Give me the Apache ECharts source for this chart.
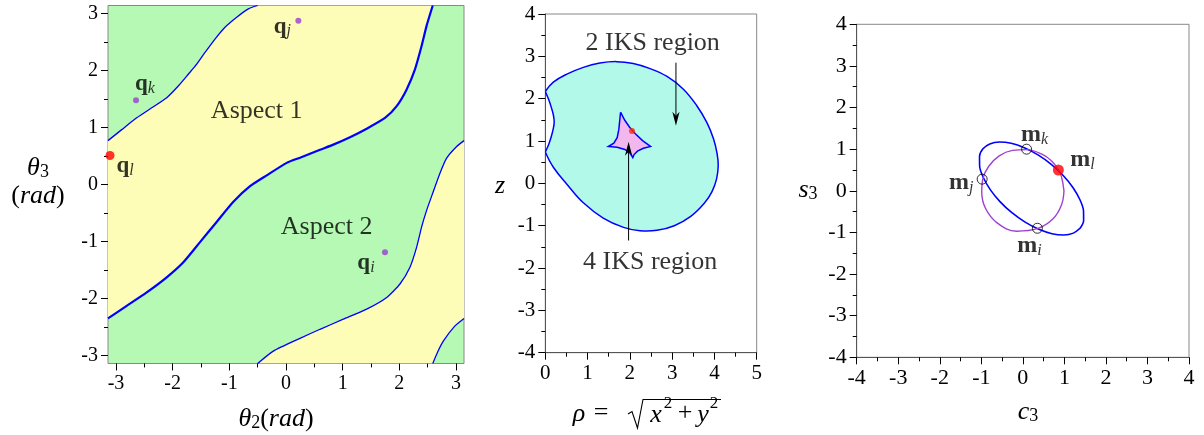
<!DOCTYPE html>
<html><head><meta charset="utf-8">
<script src="https://cdn.jsdelivr.net/npm/echarts@6/dist/echarts.min.js"></script>
<style>html,body{margin:0;padding:0;background:#fff}#c{width:1204px;height:435px}</style>
</head><body><div id="c"></div>
<script>
const PI = 3.14159;
// ---------- Left panel: joint space (theta2, theta3) ----------
const curveA = [[-3.1416,0.77],[-2.899,0.963],[-2.635,1.170],[-2.370,1.346],[-2.105,1.523],[-1.901,1.728],[-1.724,1.935],[-1.576,2.111],[-1.429,2.318],[-1.253,2.553],[-1.077,2.760],[-0.870,2.936],[-0.665,3.083],[-0.50,3.1416]];
const curveB = [[-3.1416,-2.35],[-2.812,-2.13],[-2.459,-1.894],[-2.106,-1.629],[-1.812,-1.364],[-1.518,-1.011],[-1.224,-0.657],[-0.929,-0.304],[-0.635,-0.03],[-0.341,0.16],[0.012,0.38],[0.247,0.47],[0.60,0.61],[0.835,0.70],[1.129,0.83],[1.424,0.98],[1.747,1.168],[1.953,1.375],[2.129,1.669],[2.276,2.022],[2.394,2.435],[2.482,2.788],[2.59,3.1416]];
const curveC = [[-0.50,-3.1416],[-0.224,-2.925],[0.247,-2.70],[0.600,-2.541],[1.011,-2.364],[1.424,-2.187],[1.777,-1.982],[2.011,-1.746],[2.188,-1.452],[2.306,-1.099],[2.394,-0.745],[2.483,-0.450],[2.599,-0.127],[2.717,0.198],[2.835,0.463],[3.012,0.668],[3.1416,0.77]];
const curveD = [[2.59,-3.1416],[2.68,-2.93],[2.776,-2.747],[2.982,-2.482],[3.1416,-2.35]];
const qNames = ['i','j','k'];
const qPoints = [[1.747,-1.187],[0.218,2.876],[-2.647,1.48]];
const qlPoint = [-3.106,0.509];
const aspectLabels = ['Aspect 1','Aspect 2'];
const aspectPos = [[-0.517,1.286],[0.717,-0.746]];

// ---------- Middle panel: workspace (rho, z) ----------
const outerArc = [[0.0,2.17],[0.19,2.39],[0.51,2.58],[0.90,2.74],[1.29,2.84],[1.69,2.875],[2.08,2.83],[2.48,2.71],[2.87,2.53],[3.26,2.23],[3.58,1.84],[3.82,1.44],[3.98,1.05],[4.06,0.72],[4.09,0.42],[4.05,0.10],[3.94,-0.20],[3.76,-0.47],[3.44,-0.78],[3.05,-1.00],[2.64,-1.11],[2.24,-1.12],[1.85,-1.04],[1.37,-0.82],[0.90,-0.46],[0.51,-0.02],[0.19,0.38],[0.0,0.74]];
const concaveArc = [[0.0,0.74],[0.08,0.92],[0.14,1.10],[0.19,1.30],[0.21,1.45],[0.19,1.62],[0.14,1.80],[0.08,1.98],[0.0,2.17]];
const innerRegion = [[1.78,1.68],[1.88,1.49],[1.99,1.33],[2.13,1.17],[2.30,1.01],[2.49,0.87],[2.32,0.83],[2.18,0.76],[2.10,0.68],[2.07,0.61],[2.00,0.72],[1.88,0.80],[1.70,0.85],[1.49,0.87],[1.62,0.95],[1.70,1.08],[1.74,1.28],[1.76,1.48]];
const midPoint = [2.05,1.235];
const regionLabels = ['2 IKS region','4 IKS region'];
const regionLabelPos = [[2.54,3.30],[2.48,-1.87]];
const arrowsMid = [[3.09,2.85,3.09,1.36],[1.97,-1.35,1.97,0.985]];

// ---------- Right panel: (c3, s3) ----------
const blueCurve = [[1.380,-0.899],[1.463,-0.717],[1.460,-0.480],[1.372,-0.209],[1.205,0.081],[0.971,0.369],[0.684,0.636],[0.365,0.863],[0.035,1.035],[-0.282,1.141],[-0.566,1.172],[-0.797,1.127],[-0.960,1.009],[-1.043,0.827],[-1.040,0.590],[-0.952,0.319],[-0.785,0.029],[-0.551,-0.259],[-0.264,-0.526],[0.055,-0.753],[0.385,-0.925],[0.702,-1.031],[0.986,-1.062],[1.217,-1.017],[1.380,-0.899]];
const purpleCurve = [[0.99,0.0],[0.93,0.34],[0.855,0.50],[0.70,0.71],[0.46,0.88],[0.09,0.99],[-0.25,0.97],[-0.57,0.84],[-0.82,0.59],[-0.96,0.30],[-0.99,-0.03],[-0.90,-0.42],[-0.62,-0.77],[-0.15,-0.97],[0.35,-0.91],[0.72,-0.68],[0.93,-0.34],[0.99,0.0]];
const mNames = ['i','j','k'];
const mPoints = [[0.35,-0.90],[-0.98,0.28],[0.09,1.0]];
const mlPoint = [0.855,0.50];

const SERIF = '"Liberation Serif","DejaVu Serif",serif';
const BLUE = '#0000ff';

function axis(gridIndex, min, max, fontSize, extra){
  return Object.assign({
    gridIndex, type:'value', min, max, interval:1,
    axisLine:{show:true, onZero:false, lineStyle:{color:'#555', width:1}},
    axisTick:{show:true, inside:false, length:7, lineStyle:{color:'#000', width:1}},
    minorTick:{show:true, splitNumber:2, length:4, lineStyle:{color:'#000', width:1}},
    splitLine:{show:false}, minorSplitLine:{show:false},
    axisLabel:{color:'#000', fontFamily:SERIF, fontSize, margin:10}
  }, extra||{});
}
function hidden(gridIndex,min,max){ return {gridIndex,type:'value',min,max,show:false}; }

function poly(pts, idx, fill, z){
  return {type:'custom', coordinateSystem:'cartesian2d', xAxisIndex:idx, yAxisIndex:idx, silent:true, clip:true, z:z||1,
    data:[pts[0]],
    renderItem:(params, api)=>({type:'polygon', shape:{points: pts.map(p=>api.coord(p))}, style:{fill}})};
}
function region(arcs, idx, fill, stroke, lw, smooth, z){
  const all = [];
  arcs.forEach(a=>a.forEach(p=>all.push(p)));
  return {type:'custom', coordinateSystem:'cartesian2d', xAxisIndex:idx, yAxisIndex:idx, silent:true, clip:true, z:z||1,
    data:[all[0]],
    renderItem:(params, api)=>({type:'group', children:[
      {type:'polygon', shape:{points: all.map(p=>api.coord(p))}, style:{fill}},
      ...arcs.map(a=>({type:'polyline', shape:{points:a.map(p=>api.coord(p)), smooth}, style:{stroke, lineWidth:lw, fill:null}}))
    ]})};
}
function curve(pts, idx, color, w, smooth){
  return {type:'line', xAxisIndex:idx, yAxisIndex:idx, data:pts, showSymbol:false, symbol:'none', smooth:smooth, silent:true, z:3,
    lineStyle:{color, width:w}};
}
const subRich = (size, subSize) => ({
  b:{fontFamily:SERIF, fontWeight:'bold', fontSize:size, lineHeight:size+2, color:'#000'},
  s:{fontFamily:SERIF, fontStyle:'italic', fontSize:subSize, lineHeight:10, verticalAlign:'bottom', color:'#000'}
});
function textSeries(names, pos, idx, size){
  return {type:'scatter', xAxisIndex:idx, yAxisIndex:idx, symbolSize:0, silent:true, z:5,
    data: names.map((n,i)=>({name:n, value:pos[i]})),
    label:{show:true, position:'inside', formatter:'{b}', color:'#000', fontFamily:SERIF, fontSize:size}};
}
const arrowSeries = {type:'custom', coordinateSystem:'cartesian2d', xAxisIndex:2, yAxisIndex:2, silent:true, z:6,
  data: arrowsMid,
  renderItem:(params, api)=>{
    const p1 = api.coord([api.value(0), api.value(1)]);
    const p2 = api.coord([api.value(2), api.value(3)]);
    const dx = p2[0]-p1[0], dy = p2[1]-p1[1], L = Math.hypot(dx,dy), ux = dx/L, uy = dy/L;
    const hl = 14, hw = 3.6, notch = 10;
    const bx = p2[0]-ux*hl, by = p2[1]-uy*hl, nx = p2[0]-ux*notch, ny = p2[1]-uy*notch;
    return {type:'group', children:[
      {type:'line', shape:{x1:p1[0], y1:p1[1], x2:nx, y2:ny}, style:{stroke:'#000', lineWidth:1}},
      {type:'polygon', shape:{points:[p2,[bx-uy*hw, by+ux*hw],[nx,ny],[bx+uy*hw, by-ux*hw]]}, style:{fill:'#000'}}
    ]};
  }};

const qOffsets = {i:[-19,11], j:[-16,6], k:[9,-16]};
const mOffsets = {i:[-8,18], j:[-21,4], k:[8,-14]};

const T = (x,y,text,size,extra)=>({type:'text', x, y, silent:true, style:Object.assign({text, fontFamily:SERIF, fontSize:size, fill:'#000', align:'center', verticalAlign:'middle'}, extra||{})});
const itRich = (size, sub)=>({it:{fontStyle:'italic', fontFamily:SERIF, fontSize:size}, n:{fontFamily:SERIF, fontSize:size}, sub:{fontFamily:SERIF, fontSize:sub, lineHeight:10, verticalAlign:'bottom'}});

const option = {
  animation:false,
  grid:[
    {left:108, top:5.5, width:356, height:358, show:true, backgroundColor:'#b5f9b5', borderColor:'#888', borderWidth:1},
    {left:116, top:13.57, width:340, height:341.86, show:false},
    {left:545.3, top:14, width:211.4, height:338.7, show:true, backgroundColor:'#fff', borderColor:'#888', borderWidth:1},
    {left:856.7, top:24.3, width:332.3, height:333, show:true, backgroundColor:'#fff', borderColor:'#888', borderWidth:1}
  ],
  xAxis:[
    hidden(0,-PI,PI),
    axis(1,-3,3,20,{offset:8, axisLine:{show:false, onZero:false}}),
    axis(2,0,5,21),
    axis(3,-4,4,22)
  ],
  yAxis:[
    hidden(0,-PI,PI),
    axis(1,-3,3,20,{offset:8, axisLine:{show:false, onZero:false}}),
    axis(2,-4,4,21),
    axis(3,-4,4,22)
  ],
  series:[
    poly(curveA.concat(curveB.slice().reverse()), 0, '#fefdb8'),
    poly(curveC.concat(curveD.slice().reverse()), 0, '#fefdb8'),
    curve(curveA,0,BLUE,1.3,0.2),
    curve(curveB,0,BLUE,2.2,0.2),
    curve(curveC,0,BLUE,1.3,0.2),
    curve(curveD,0,BLUE,1.3,0.2),
    {type:'scatter', xAxisIndex:0, yAxisIndex:0, symbolSize:6, itemStyle:{color:'#9a3fd0'}, z:6,
      data: qNames.map((n,i)=>({name:n, value:qPoints[i],
        label:{show:true, position:'inside', offset:qOffsets[n], formatter:'{b|q}{s|'+n+'}', rich:subRich(23,16)}}))},
    {type:'scatter', xAxisIndex:0, yAxisIndex:0, symbolSize:9, itemStyle:{color:'#ff0000'}, z:6,
      data:[{name:'l', value:qlPoint, label:{show:true, position:'inside', offset:[15,11], formatter:'{b|q}{s|l}', rich:subRich(23,16)}}]},
    textSeries(aspectLabels, aspectPos, 0, 26),

    region([outerArc, concaveArc], 2, '#b3f9ea', BLUE, 1.5, 0.4, 1),
    region([innerRegion.concat([innerRegion[0]])], 2, '#f2b8ee', BLUE, 1.5, 0, 2),
    {type:'scatter', xAxisIndex:2, yAxisIndex:2, symbolSize:6, itemStyle:{color:'#ff2a00'}, z:6, data:[midPoint]},
    arrowSeries,
    textSeries(regionLabels, regionLabelPos, 2, 26),

    curve(blueCurve,3,BLUE,1.6,0.3),
    curve(purpleCurve,3,'#a040d0',1.4,0.4),
    {type:'scatter', xAxisIndex:3, yAxisIndex:3, symbolSize:10, z:6,
      itemStyle:{color:'rgba(0,0,0,0)', borderColor:'#000', borderWidth:1},
      data: mNames.map((n,i)=>({name:n, value:mPoints[i],
        label:{show:true, position:'inside', offset:mOffsets[n], formatter:'{b|m}{s|'+n+'}', rich:subRich(24,16)}}))},
    {type:'scatter', xAxisIndex:3, yAxisIndex:3, symbolSize:11, itemStyle:{color:'#ff0000'}, z:6,
      data:[{name:'l', value:mlPoint, label:{show:true, position:'inside', offset:[24,-10], formatter:'{b|m}{s|l}', rich:subRich(24,16)}}]}
  ],
  graphic:[
    T(276,419,'{it|θ}{sub|2}{n|(}{it|rad}{n|)}',26,{rich:itRich(26,18)}),
    T(38,168,'{it|θ}{sub|3}',26,{rich:itRich(26,18)}),
    T(38,196,'{n|(}{it|rad}{n|)}',26,{rich:itRich(26,18)}),
    T(500,186,'z',26,{fontStyle:'italic'}),
    T(579,414,'ρ',26,{fontStyle:'italic'}),
    T(601,413,'=',26),
    {type:'polyline', silent:true, shape:{points:[[628,414],[632,411.5],[637.5,428],[643,399.5],[721,399.5]]}, style:{stroke:'#000', lineWidth:1.1, fill:null}},
    T(656,415,'x',26,{fontStyle:'italic'}),
    T(668,404,'2',17),
    T(685,413,'+',26),
    T(703,415,'y',26,{fontStyle:'italic'}),
    T(714,404,'2',17),
    T(808,190,'{it|s}{sub|3}',26,{rich:itRich(26,18)}),
    T(1028,412,'{it|c}{sub|3}',26,{rich:itRich(26,18)})
  ]
};
const chart = echarts.init(document.getElementById('c'));
chart.setOption(option);
</script></body></html>
